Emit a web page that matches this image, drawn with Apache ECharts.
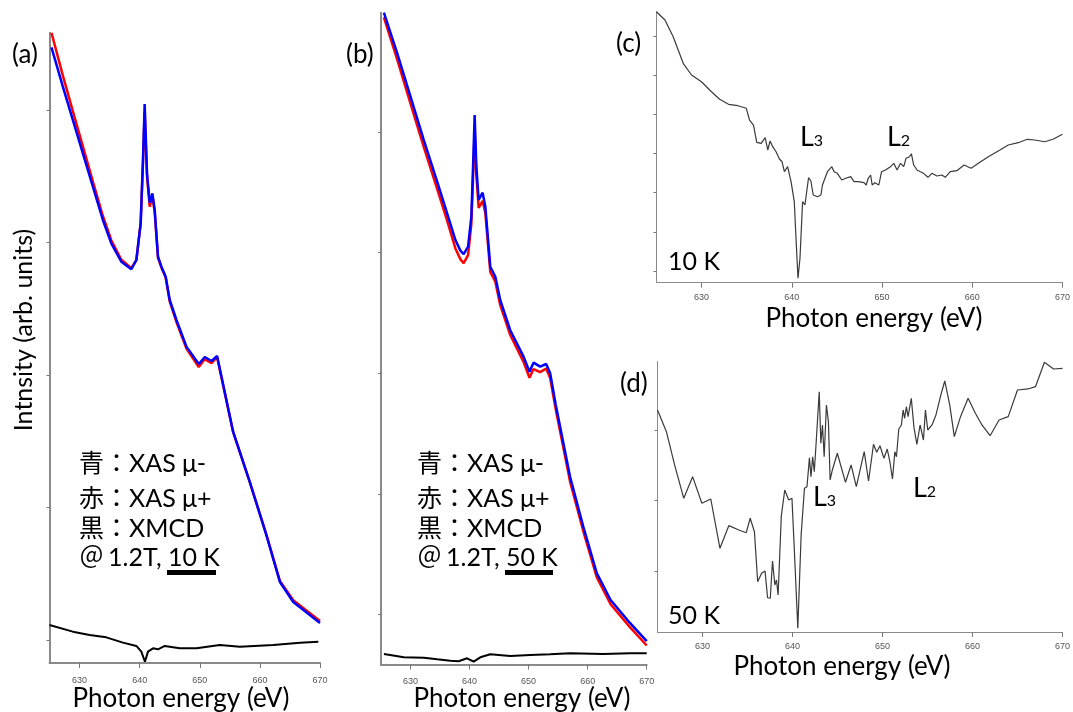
<!DOCTYPE html>
<html>
<head>
<meta charset="utf-8">
<script src="https://cdn.jsdelivr.net/npm/echarts@6/dist/echarts.min.js"></script>
<style>
  html, body { margin: 0; background: #fff; }
  #main { width: 1073px; height: 712px; }
</style>
</head>
<body>
<div id="main"></div>
<script>
// x ticks shared by all four panels
var energyTicks = [630, 640, 650, 660, 670];

// (a) 10 K : XAS mu- (blue), XAS mu+ (red), XMCD (black)
var energyA = [625.33, 627.22, 628.88, 630.55, 632.22, 633.88, 635.28, 636.95, 638.62, 639.45, 640.17, 640.55, 640.83, 641.22, 641.67, 642.12, 642.5, 643.05, 643.62, 644.33, 645.0, 646.12, 647.78, 649.83, 650.83, 651.95, 652.88, 653.62, 655.55, 658.33, 661.12, 663.33, 665.55, 670];
var blueA = [5.473, 5.176, 4.925, 4.673, 4.421, 4.170, 3.994, 3.855, 3.798, 3.868, 4.147, 4.623, 5.045, 4.522, 4.300, 4.371, 4.245, 3.893, 3.817, 3.742, 3.566, 3.415, 3.214, 3.083, 3.136, 3.106, 3.143, 2.985, 2.570, 2.192, 1.785, 1.438, 1.287, 1.128];
var redA = [5.583, 5.259, 4.992, 4.726, 4.459, 4.200, 4.017, 3.870, 3.806, 3.868, 4.147, 4.60, 4.98, 4.50, 4.270, 4.35, 4.23, 3.885, 3.81, 3.735, 3.555, 3.40, 3.20, 3.06, 3.12, 3.09, 3.135, 2.98, 2.57, 2.19, 1.79, 1.445, 1.30, 1.143];
var energyXA = [625, 628.88, 631.67, 634.45, 637.22, 639.45, 640.28, 640.88, 641.38, 642.22, 643.05, 644.17, 646.67, 649.45, 653.33, 656.67, 662.22, 666.67, 669.72];
var xmcdA = [1.113, 1.063, 1.038, 1.020, 0.980, 0.955, 0.912, 0.836, 0.912, 0.937, 0.930, 0.955, 0.937, 0.937, 0.962, 0.949, 0.962, 0.980, 0.987];
var yTicksA = [1, 2, 3, 4, 5];

// (b) 50 K
var energyB = [625.49, 627.75, 630.0, 632.25, 634.51, 636.2, 637.6, 638.45, 639.0, 639.75, 640.3, 640.59, 640.86, 641.15, 641.54, 642.21, 642.67, 643.51, 644.36, 645.2, 646.89, 649.14, 650.15, 650.83, 651.96, 652.97, 653.65, 654.6, 657.03, 659.27, 661.54, 663.89, 667.16, 670];
var blueB = [5.990, 5.653, 5.294, 4.934, 4.589, 4.327, 4.105, 4.017, 3.989, 4.050, 4.298, 4.713, 5.142, 4.713, 4.437, 4.498, 4.381, 3.884, 3.801, 3.606, 3.357, 3.138, 3.013, 3.088, 3.055, 3.077, 3.0, 2.737, 2.140, 1.726, 1.344, 1.120, 0.930, 0.780];
var redB = [5.952, 5.60, 5.235, 4.875, 4.530, 4.265, 4.035, 3.945, 3.914, 3.98, 4.24, 4.62, 5.02, 4.64, 4.371, 4.43, 4.33, 3.84, 3.76, 3.565, 3.317, 3.095, 2.963, 3.035, 3.01, 3.04, 2.96, 2.70, 2.10, 1.69, 1.31, 1.085, 0.895, 0.743];
var energyXB = [625.49, 628.87, 632.25, 634.51, 636.76, 638.16, 639.58, 640.69, 641.82, 643.51, 646.89, 650.27, 653.65, 657.03, 662.65, 667.16, 670];
var xmcdB = [0.672, 0.645, 0.642, 0.629, 0.617, 0.612, 0.637, 0.609, 0.645, 0.670, 0.656, 0.664, 0.670, 0.678, 0.672, 0.678, 0.678];
var yTicksB = [1, 2, 3, 4, 5];

// (c) XMCD 10 K
var energyC = [625.0, 625.95, 626.86, 627.97, 628.89, 629.99, 631.10, 632.01, 633.0, 634.03, 634.96, 635.32, 635.76, 636.12, 636.61, 637.05, 637.34, 637.60, 637.89, 638.26, 638.63, 638.92, 639.18, 639.54, 639.92, 640.28, 640.47, 640.69, 640.91, 641.20, 641.46, 641.86, 642.12, 642.38, 642.85, 643.23, 643.40, 643.95, 644.44, 644.69, 645.05, 645.54, 645.98, 646.53, 646.90, 647.37, 648.0, 648.25, 648.47, 648.74, 648.91, 649.21, 649.65, 649.95, 650.39, 650.94, 651.31, 651.67, 652.05, 652.41, 652.66, 652.96, 653.26, 653.51, 653.88, 654.25, 654.61, 655.09, 655.53, 656.08, 656.63, 657.01, 657.56, 658.29, 659.10, 659.87, 660.68, 661.78, 663.07, 663.99, 665.09, 666.11, 666.93, 668.03, 668.95, 670];
var xmcdC = [7.615, 7.403, 6.977, 6.299, 6.0, 5.829, 5.574, 5.380, 5.253, 5.217, 5.151, 4.852, 4.724, 4.283, 4.258, 4.401, 4.087, 4.316, 4.171, 4.043, 3.857, 3.788, 3.533, 3.661, 3.278, 2.768, 1.834, 0.814, 1.324, 2.768, 2.684, 3.380, 3.296, 2.939, 2.895, 2.939, 3.194, 3.533, 3.661, 3.533, 3.492, 3.321, 3.365, 3.406, 3.278, 3.278, 3.253, 3.194, 3.365, 3.449, 3.194, 3.253, 3.194, 3.533, 3.577, 3.661, 3.747, 3.577, 3.747, 3.661, 3.875, 3.901, 3.985, 3.704, 3.577, 3.533, 3.492, 3.390, 3.492, 3.423, 3.449, 3.390, 3.533, 3.559, 3.704, 3.620, 3.747, 3.916, 4.087, 4.214, 4.273, 4.360, 4.342, 4.298, 4.360, 4.487];
var yTicksC = [1, 2, 3, 4, 5, 6, 7];

// (d) XMCD 50 K
var energyD = [625.0, 625.99, 626.90, 627.92, 628.90, 629.93, 630.92, 631.94, 632.92, 634.04, 634.86, 635.30, 635.77, 636.13, 636.57, 636.95, 637.23, 637.53, 637.78, 638.04, 638.22, 638.40, 638.76, 638.95, 639.14, 639.31, 639.58, 639.94, 640.23, 640.59, 640.96, 641.33, 641.61, 641.88, 642.05, 642.24, 642.42, 642.60, 642.97, 643.15, 643.33, 643.52, 643.77, 643.99, 644.18, 644.43, 644.98, 645.89, 646.51, 647.09, 647.97, 648.45, 649.0, 649.36, 649.72, 650.16, 650.53, 650.82, 651.11, 651.37, 651.55, 651.81, 652.10, 652.29, 652.46, 652.65, 652.84, 653.20, 653.50, 653.82, 654.18, 654.55, 654.77, 655.03, 655.50, 655.94, 656.48, 656.92, 657.47, 657.98, 658.67, 659.51, 660.32, 661.05, 661.96, 662.95, 663.97, 665.0, 666.16, 667.0, 667.99, 669.01, 670.0];
var xmcdD = [3.284, 2.976, 2.504, 2.031, 2.338, 1.960, 2.021, 1.322, 1.643, 1.582, 1.543, 1.748, 1.557, 0.848, 0.967, 1.0, 0.621, 0.613, 1.142, 0.801, 0.872, 0.660, 1.784, 1.784, 2.149, 2.149, 2.007, 2.031, 1.227, 0.187, 1.511, 2.173, 2.196, 2.607, 2.338, 2.621, 2.409, 2.763, 3.543, 2.811, 3.071, 2.621, 3.355, 3.118, 2.291, 2.433, 2.670, 2.258, 2.504, 2.196, 2.692, 2.277, 2.797, 2.684, 2.777, 2.599, 2.730, 2.550, 2.305, 2.692, 2.621, 3.014, 3.071, 3.284, 3.166, 3.330, 3.189, 3.450, 3.033, 2.797, 3.071, 2.858, 3.284, 3.0, 3.071, 3.213, 3.496, 3.695, 3.355, 2.905, 3.189, 3.450, 3.237, 3.071, 2.919, 3.142, 3.189, 3.567, 3.582, 3.614, 3.960, 3.865, 3.875];
var yTicksD = [1, 2, 3];

function zip(xs, ys) {
  return xs.map(function (x, i) { return [x, ys[i]]; });
}

var TXT = 'Lato, "Noto Sans CJK JP", sans-serif';

function xAxisFor(idx, margin, thick) {
  return {
    type: 'value', gridIndex: idx, min: 625, max: 670,
    axisLine: { lineStyle: { color: '#8a8a8a', width: thick } },
    axisTick: { customValues: energyTicks, length: 5, lineStyle: { color: '#777', width: 1 } },
    axisLabel: { customValues: energyTicks, margin: margin, fontFamily: 'Liberation Sans', fontSize: 9, color: '#555' },
    splitLine: { show: false }
  };
}

function yAxisFor(idx, min, max, ticks, thick) {
  return {
    type: 'value', gridIndex: idx, min: min, max: max,
    axisLine: { show: true, lineStyle: { color: '#8a8a8a', width: thick } },
    axisTick: { customValues: ticks, length: 3, lineStyle: { color: '#777', width: 1 } },
    axisLabel: { show: false },
    splitLine: { show: false }
  };
}

function line(idx, data, color, width) {
  return {
    type: 'line', xAxisIndex: idx, yAxisIndex: idx, data: data,
    symbol: 'none', smooth: false, clip: false,
    lineStyle: { color: color, width: width }
  };
}

function txt(x, y, text, size, align) {
  return {
    type: 'text', x: x, y: y,
    style: { text: text, font: size + 'px ' + TXT, fill: '#000', align: align || 'left', verticalAlign: 'middle' }
  };
}

function edge(x, y, n) {
  return {
    type: 'text', x: x, y: y,
    style: {
      text: '{l|L}{s|' + n + '}', fill: '#000', align: 'left', verticalAlign: 'middle',
      rich: {
        l: { fontFamily: TXT, fontSize: 27, verticalAlign: 'bottom' },
        s: { fontFamily: TXT, fontSize: 16, verticalAlign: 'bottom', padding: [0, 0, 2, 0] }
      }
    }
  };
}

var myChart = echarts.init(document.getElementById('main'));

var option = {
  animation: false,
  backgroundColor: '#fff',
  grid: [
    { left: 49.5, top: 32.7, width: 270.5, height: 630.3 },
    { left: 381, top: 12.7, width: 265.7, height: 651.8 },
    { left: 656.4, top: 11.7, width: 407.9, height: 271 },
    { left: 657.5, top: 361.6, width: 411, height: 270.4 }
  ],
  xAxis: [
    xAxisFor(0, 13, 2),
    xAxisFor(1, 13, 2),
    xAxisFor(2, 10, 1),
    xAxisFor(3, 10, 1)
  ],
  yAxis: [
    yAxisFor(0, 0.8264, 5.5834, yTicksA, 2),
    yAxisFor(1, 0.5854, 5.990, yTicksB, 2),
    yAxisFor(2, 0.7015, 7.615, yTicksC, 1),
    yAxisFor(3, 0.1348, 3.97, yTicksD, 1)
  ],
  series: [
    line(0, zip(energyA, redA), '#ff0000', 2.5),
    line(0, zip(energyA, blueA), '#0000ff', 2.5),
    line(0, zip(energyXA, xmcdA), '#000000', 2),
    line(1, zip(energyB, redB), '#ff0000', 2.5),
    line(1, zip(energyB, blueB), '#0000ff', 2.5),
    line(1, zip(energyXB, xmcdB), '#000000', 2),
    line(2, zip(energyC, xmcdC), '#3a3a3a', 1.2),
    line(3, zip(energyD, xmcdD), '#3a3a3a', 1.2)
  ],
  graphic: [
    txt(12, 55, '(a)', 26),
    txt(346, 55, '(b)', 26),
    txt(616, 44, '(c)', 26),
    txt(620, 384, '(d)', 26),
    {
      type: 'text', x: 24, y: 330, rotation: Math.PI / 2,
      style: { text: 'Intnsity (arb. units)', font: '25px ' + TXT, fill: '#000', align: 'center', verticalAlign: 'middle' }
    },
    txt(181, 699, 'Photon energy (eV)', 26, 'center'),
    txt(522, 699, 'Photon energy (eV)', 26, 'center'),
    txt(874, 319, 'Photon energy (eV)', 26, 'center'),
    txt(842, 667, 'Photon energy (eV)', 26, 'center'),
    txt(79, 464, '青：XAS μ-', 25),
    txt(79, 499, '赤：XAS μ+', 25),
    txt(79, 529, '黒：XMCD', 25),
    txt(79, 558, '＠', 25),
    txt(108, 558, '1.2T, 10 K', 25),
    { type: 'rect', shape: { x: 167, y: 570, width: 49, height: 5 }, style: { fill: '#000' } },
    txt(417, 464, '青：XAS μ-', 25),
    txt(417, 499, '赤：XAS μ+', 25),
    txt(417, 529, '黒：XMCD', 25),
    txt(417, 558, '＠', 25),
    txt(446, 558, '1.2T, 50 K', 25),
    { type: 'rect', shape: { x: 505, y: 570, width: 48, height: 5 }, style: { fill: '#000' } },
    txt(668, 262, '10 K', 25),
    edge(800, 137, 3),
    edge(887, 137, 2),
    txt(668, 616, '50 K', 25),
    edge(813, 497, 3),
    edge(913, 488, 2)
  ]
};

myChart.setOption(option);
</script>
</body>
</html>
